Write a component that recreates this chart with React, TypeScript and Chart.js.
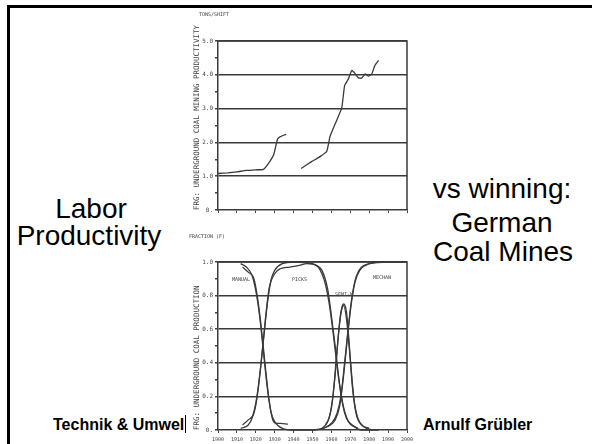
import React, { useEffect, useRef } from 'react';
import { Chart, registerables } from 'chart.js';
Chart.register(...registerables);

// ---- Top chart: productivity (tons/shift) ----
const prodYearsA = [1900, 1905, 1910, 1915, 1920, 1924, 1927, 1929.5, 1931.5, 1933, 1936];
const prodValuesA = [1.08, 1.1, 1.13, 1.17, 1.19, 1.2, 1.4, 1.64, 2.1, 2.17, 2.24];
const prodYearsB = [1944, 1949.5, 1954, 1957.5, 1959.3, 1963, 1965.5, 1967, 1969, 1970.8, 1972.6, 1974.3, 1976, 1977.9, 1979.6, 1981.4, 1983, 1985];
const prodValuesB = [1.23, 1.43, 1.58, 1.73, 2.18, 2.68, 3.03, 3.68, 3.88, 4.13, 4.03, 3.91, 3.9, 4.03, 3.96, 4.03, 4.28, 4.43];
const topYLabels = ['0.', '1.0', '2.0', '3.0', '4.0', '5.0'];

// ---- Bottom chart: fraction of production ----
const manualFitYears = [1912, 1915, 1918, 1920, 1922, 1924, 1926, 1928, 1930, 1934, 1940, 1950];
const manualFitValues = [0.99, 0.97, 0.92, 0.83, 0.68, 0.47, 0.26, 0.11, 0.05, 0.01, 0.0, 0.0];
const manualDataYears = [1913, 1916, 1919, 1921, 1923, 1925, 1927, 1929, 1931, 1933, 1937];
const manualDataValues = [0.97, 0.94, 0.9, 0.78, 0.6, 0.38, 0.18, 0.06, 0.04, 0.04, 0.035];
const picksFitYears = [1912, 1916, 1918, 1920, 1922, 1924, 1926, 1928, 1930, 1934, 1940, 1950, 1953, 1955, 1957, 1959, 1961, 1963, 1965, 1967, 1969, 1972, 1976, 1985];
const picksFitValues = [0.01, 0.03, 0.07, 0.16, 0.32, 0.53, 0.74, 0.89, 0.95, 0.99, 1.0, 0.99, 0.97, 0.93, 0.86, 0.74, 0.57, 0.38, 0.22, 0.11, 0.05, 0.02, 0.0, 0.0];
const picksDataYears = [1913, 1916, 1919, 1921, 1923, 1925, 1927, 1930, 1933, 1938, 1943, 1947, 1952, 1955, 1958, 1960, 1962, 1964, 1966, 1968, 1971, 1974];
const picksDataValues = [0.03, 0.06, 0.1, 0.22, 0.42, 0.65, 0.84, 0.93, 0.96, 0.97, 0.98, 0.99, 0.98, 0.95, 0.84, 0.68, 0.5, 0.3, 0.15, 0.07, 0.03, 0.01];
const semiFitYears = [1950, 1955, 1958, 1960, 1962, 1964, 1965.5, 1966.5, 1968, 1970, 1972, 1974, 1977, 1982];
const semiFitValues = [0.0, 0.01, 0.05, 0.13, 0.33, 0.6, 0.72, 0.74, 0.66, 0.42, 0.18, 0.07, 0.02, 0.0];
const semiDataYears = [1957, 1959, 1961, 1963, 1965, 1966.5, 1968, 1969.5, 1971, 1973, 1976, 1980];
const semiDataValues = [0.03, 0.08, 0.22, 0.48, 0.7, 0.75, 0.7, 0.5, 0.27, 0.1, 0.03, 0.01];
const mechanFitYears = [1950, 1956, 1960, 1963, 1965, 1967, 1969, 1971, 1973, 1976, 1980, 1990, 2000];
const mechanFitValues = [0.0, 0.01, 0.04, 0.1, 0.2, 0.4, 0.62, 0.8, 0.91, 0.97, 0.99, 1.0, 1.0];
const mechanDataYears = [1958, 1962, 1964.5, 1966.5, 1968.5, 1970.5, 1972.5, 1975, 1978, 1984];
const mechanDataValues = [0.02, 0.06, 0.15, 0.33, 0.55, 0.75, 0.88, 0.95, 0.98, 1.0];
const bottomYLabels = ['0.', '0.2', '0.4', '0.6', '0.8', '1.0'];
const xTickYears = [1900, 1910, 1920, 1930, 1940, 1950, 1960, 1970, 1980, 1990, 2000];

const MONO = "'DejaVu Sans Mono', monospace";
const INK = '#3a3a3a';

const pts = (xs: number[], ys: number[]) => xs.map((x, i) => ({ x, y: ys[i] }));

const framePlugin = {
  id: 'frame',
  beforeDatasetsDraw(chart: any) {
    const { ctx, chartArea: a } = chart;
    ctx.save();
    ctx.strokeStyle = INK;
    ctx.lineWidth = 1.5;
    ctx.beginPath();
    ctx.moveTo(a.left, a.top);
    ctx.lineTo(a.right, a.top);
    ctx.lineTo(a.right, a.bottom);
    ctx.stroke();
    ctx.restore();
  },
};

function lineDs(xs: number[], ys: number[], extra: any = {}) {
  return {
    data: pts(xs, ys),
    borderColor: INK,
    borderWidth: 1.3,
    pointRadius: 0,
    fill: false,
    cubicInterpolationMode: 'monotone',
    clip: 4,
    ...extra,
  };
}

function baseOptions(
  yMax: number,
  step: number,
  isMajor: (v: number) => boolean,
  label: (v: number) => string,
  title: string,
  titleSize: number,
  showX: boolean,
  xHeight: number,
  padTop: number
): any {
  return {
    responsive: false,
    animation: false,
    devicePixelRatio: 1,
    events: [],
    layout: { padding: { left: 33, right: 13, top: padTop, bottom: 0 } },
    plugins: { legend: { display: false }, tooltip: { enabled: false } },
    scales: {
      x: {
        type: 'linear',
        min: 1900,
        max: 2000,
        afterFit: (s: any) => {
          s.height = xHeight;
        },
        afterBuildTicks: (s: any) => {
          s.ticks = xTickYears.map((v) => ({ value: v }));
        },
        ticks: {
          autoSkip: false,
          maxRotation: 0,
          padding: 4,
          color: '#444',
          font: { family: MONO, size: 5 },
          callback: (v: any) => (showX ? String(v) : ''),
        },
        grid: { drawOnChartArea: false, tickLength: 3, color: '#444', lineWidth: 1 },
        border: { color: INK, width: 1.5 },
      },
      y: {
        min: 0,
        max: yMax,
        afterFit: (s: any) => {
          s.width = 25;
        },
        ticks: {
          stepSize: step,
          autoSkip: false,
          padding: 2,
          color: '#444',
          font: { family: MONO, size: 6 },
          callback: (v: any) => (isMajor(v) ? label(v) : ''),
        },
        grid: {
          color: (c: any) => (c.tick && isMajor(c.tick.value) && c.tick.value > 0 ? INK : 'rgba(0,0,0,0)'),
          tickColor: '#444',
          lineWidth: 1.5,
          tickLength: 3,
        },
        border: { color: INK, width: 1.5 },
        title: {
          display: true,
          text: title,
          align: 'start',
          padding: 0,
          color: '#444',
          font: { family: MONO, size: titleSize },
        },
      },
    },
  };
}

function TopChart() {
  const ref = useRef<HTMLCanvasElement>(null);
  useEffect(() => {
    const isMajor = (v: number) => Math.abs(v - Math.round(v)) < 1e-6;
    const chart = new Chart(ref.current!, {
      type: 'line',
      data: {
        datasets: [
          lineDs(prodYearsA, prodValuesA, { cubicInterpolationMode: 'default', tension: 0.15 }),
          lineDs(prodYearsB, prodValuesB, { cubicInterpolationMode: 'default', tension: 0.15 }),
        ] as any,
      },
      options: baseOptions(
        5,
        0.5,
        isMajor,
        (v) => topYLabels[Math.round(v)],
        'FRG: UNDERGROUND COAL MINING PRODUCTIVITY',
        7.5,
        false,
        15,
        41
      ),
      plugins: [framePlugin],
    });
    return () => chart.destroy();
  }, []);
  return <canvas ref={ref} width={260} height={225} style={{ position: 'absolute', left: 160, top: 0 }} />;
}

function BottomChart() {
  const ref = useRef<HTMLCanvasElement>(null);
  useEffect(() => {
    const isMajor = (v: number) => Math.round(v * 10) % 2 === 0 && Math.abs(v * 10 - Math.round(v * 10)) < 1e-6;
    const chart = new Chart(ref.current!, {
      type: 'line',
      data: {
        datasets: [
          lineDs(manualFitYears, manualFitValues),
          lineDs(manualDataYears, manualDataValues),
          lineDs(picksFitYears, picksFitValues),
          lineDs(picksDataYears, picksDataValues),
          lineDs(semiFitYears, semiFitValues),
          lineDs(semiDataYears, semiDataValues),
          lineDs(mechanFitYears, mechanFitValues),
          lineDs(mechanDataYears, mechanDataValues),
        ] as any,
      },
      options: baseOptions(
        1,
        0.1,
        isMajor,
        (v) => bottomYLabels[Math.round(v * 5)],
        'FRG: UNDERGROUND COAL PRODUCTION',
        7.5,
        true,
        14,
        37
      ),
      plugins: [framePlugin],
    });
    return () => chart.destroy();
  }, []);
  return <canvas ref={ref} width={260} height={219} style={{ position: 'absolute', left: 160, top: 225 }} />;
}

const sans = "'Liberation Sans', Arial, sans-serif";

function Big({ text, cx, top }: { text: string; cx: number; top: number }) {
  return (
    <div
      style={{
        position: 'absolute',
        left: cx - 120,
        width: 240,
        top,
        textAlign: 'center',
        fontFamily: sans,
        fontSize: 28,
        lineHeight: '28px',
        color: '#000',
        whiteSpace: 'nowrap',
      }}
    >
      {text}
    </div>
  );
}

function Small({ text, left, top, size = 5 }: { text: string; left: number; top: number; size?: number }) {
  return (
    <div
      style={{
        position: 'absolute',
        left,
        top,
        fontFamily: MONO,
        fontSize: size,
        lineHeight: `${size}px`,
        color: '#444',
        whiteSpace: 'nowrap',
      }}
    >
      {text}
    </div>
  );
}

const footStyle: any = {
  position: 'absolute',
  top: 417,
  fontFamily: sans,
  fontWeight: 'bold',
  fontSize: 16,
  lineHeight: '16px',
  whiteSpace: 'nowrap',
  color: '#000',
};

export default function App() {
  return (
    <div style={{ position: 'absolute', left: 0, top: 0, width: 592, height: 444, overflow: 'hidden', background: '#fff' }}>
      <div
        style={{
          position: 'absolute',
          left: 7,
          top: 5,
          width: 585,
          height: 439,
          borderTop: '3px solid #000',
          borderLeft: '3px solid #000',
          boxSizing: 'border-box',
        }}
      />
      <Big text="Labor" cx={91} top={195} />
      <Big text="Productivity" cx={89} top={222} />
      <Big text="vs winning:" cx={502} top={175} />
      <Big text="German" cx={502} top={209} />
      <Big text="Coal Mines" cx={503} top={238} />
      <div style={{ ...footStyle, left: 53 }}>Technik &amp; Umwel</div>
      <div style={{ position: 'absolute', left: 185, top: 415, width: 1, height: 18, background: '#000' }} />
      <div style={{ ...footStyle, left: 423 }}>Arnulf Grübler</div>
      <TopChart />
      <BottomChart />
      <Small text="TONS/SHIFT" left={199} top={12} />
      <Small text="FRACTION (F)" left={189} top={234} />
      <Small text="MANUAL" left={232} top={277} />
      <Small text="PICKS" left={292} top={277} />
      <Small text="SEMI-M" left={335} top={292} />
      <Small text="MECHAN" left={373} top={275} />
    </div>
  );
}
